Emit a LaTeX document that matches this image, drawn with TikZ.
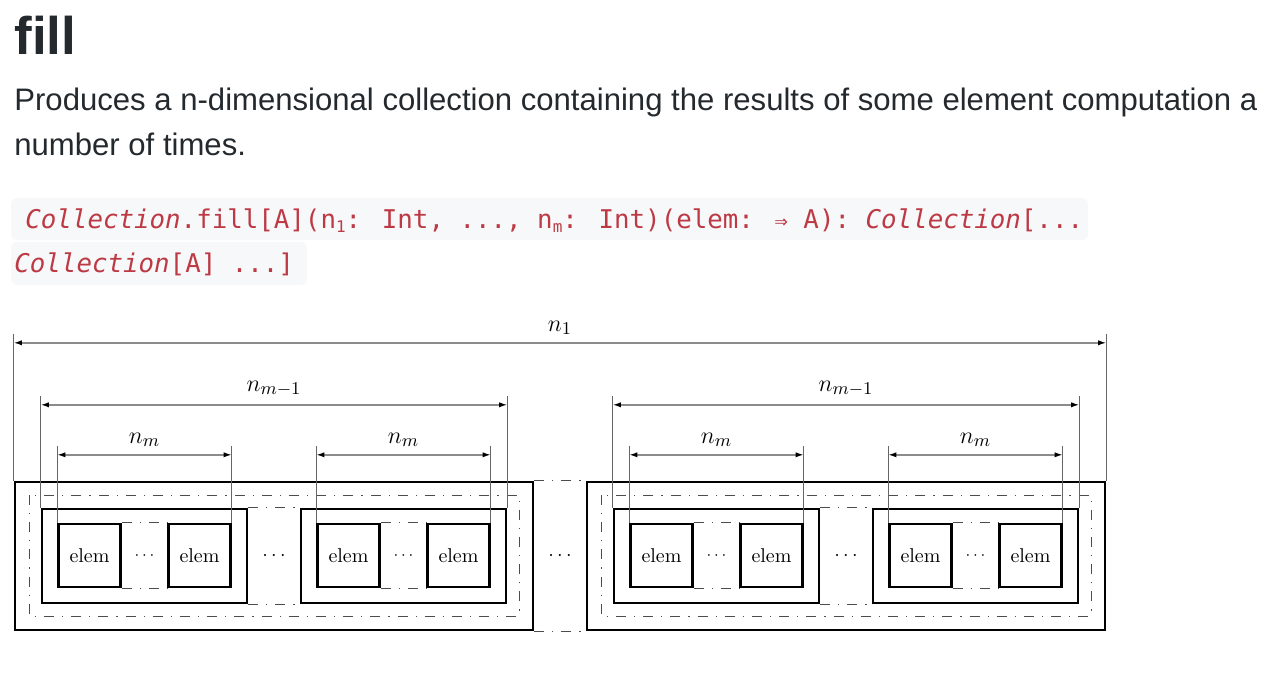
\documentclass[tikz,border=0pt]{standalone}
\usepackage{fontspec}
\usetikzlibrary{arrows.meta}
\newfontfamily\uifont{Liberation Sans}
\newfontfamily\codefont{DejaVu Sans Mono}
\definecolor{inktext}{HTML}{24292E}
\definecolor{codered}{HTML}{BD3A45}
\definecolor{codebg}{HTML}{F6F8FA}
\newcommand\codesub[1]{\raisebox{-0.35ex}{\fontsize{8pt}{8pt}\selectfont #1}}
\tikzset{
  box/.style={draw, line width=1.2pt, inner sep=0pt},
  elembox/.style={box, minimum width=31pt, minimum height=31.5pt},
  gapline/.style={draw=black!70, line width=0.5pt, dash pattern=on 5pt off 4pt on 0.6pt off 4pt},
  extline/.style={draw=black!60, line width=0.45pt},
  dimline/.style={draw=black!45, line width=0.7pt,
    {Latex[length=4pt,width=2.6pt,color=black]}-{Latex[length=4pt,width=2.6pt,color=black]}},
  dimlabel/.style={inner sep=0pt, font=\fontsize{13pt}{15pt}\selectfont},
  prose/.style={anchor=base west, inner sep=0pt, text=inktext, font=\uifont\fontsize{15.55pt}{18pt}\selectfont},
  codeline/.style={anchor=base west, inner sep=0pt, text=codered, font=\codefont\fontsize{12.9pt}{15pt}\selectfont},
}
\begin{document}
\begin{tikzpicture}[x=0.5pt,y=-0.5pt]
  \useasboundingbox (0,0) rectangle (1284,676);
  % heading and description
  \node[anchor=base west, inner sep=0pt, text=inktext, font=\uifont\bfseries\fontsize{26.5pt}{30pt}\selectfont] (title) at (14,54) {fill};
  \node[prose] (desc1) at (14,110) {Produces a n-dimensional collection containing the results of some element computation a};
  \node[prose] (desc2) at (14,155) {number of times.};
  % signature
  \fill[codebg, rounded corners=3pt] (11,198) rectangle (1088,240);
  \fill[codebg, rounded corners=3pt] (11,242) rectangle (307,285);
  \node[codeline] (sig1) at (25,228) {\textit{Collection}.fill[A](n\codesub{1}: Int, ..., n\codesub{m}: Int)(elem: {\fontsize{11pt}{11pt}\selectfont ⇒} A): \textit{Collection}[...};
  \node[codeline] (sig2) at (14,272) {\textit{Collection}[A] ...]};
  % outer collections
  \foreach \o/\ox in {1/274,2/846}{
    \node[box, minimum width=259pt, minimum height=74pt] (outer-\o) at (\ox,556) {};
    \draw[gapline] ({\ox-245},495) rectangle ({\ox+245},616);
    % inner collections
    \foreach \i/\dx in {1/-1,2/1}{
      \node[box, minimum width=102.5pt, minimum height=47pt] (inner-\o-\i) at ({\ox+\dx*129.5},556) {};
      \node[elembox] (elem-\o-\i-1) at ({\ox+\dx*129.5-55},555.5) {elem};
      \node[elembox] (elem-\o-\i-2) at ({\ox+\dx*129.5+55},555.5) {elem};
      \draw[gapline] (elem-\o-\i-1.north east) -- (elem-\o-\i-2.north west);
      \draw[gapline] (elem-\o-\i-1.south east) -- (elem-\o-\i-2.south west);
      \node[inner sep=0pt, font=\footnotesize] (edots-\o-\i) at ({\ox+\dx*129.5},555.5) {$\cdots$};
      % n_m
      \draw[extline] (elem-\o-\i-1.north west) -- ++(0,-77) coordinate (ml-\o-\i);
      \draw[extline] (elem-\o-\i-2.north east) -- ++(0,-77) coordinate (mr-\o-\i);
      \draw[dimline] ([yshift=-4.5pt]ml-\o-\i) -- ([yshift=-4.5pt]mr-\o-\i)
        node[dimlabel, midway, yshift=7.5pt] (lm-\o-\i) {$n_m$};
    }
    \draw[gapline] (inner-\o-1.north east) -- (inner-\o-2.north west);
    \draw[gapline] (inner-\o-1.south east) -- (inner-\o-2.south west);
    \node[inner sep=0pt] (idots-\o) at (\ox,556) {$\cdots$};
    % n_{m-1}
    \draw[extline] (inner-\o-1.north west) -- ++(0,-112) coordinate (kl-\o);
    \draw[extline] (inner-\o-2.north east) -- ++(0,-112) coordinate (kr-\o);
    \draw[dimline] ([yshift=-4.5pt]kl-\o) -- ([yshift=-4.5pt]kr-\o)
      node[dimlabel, midway, yshift=8pt] (lk-\o) {$n_{m-1}$};
  }
  \draw[gapline] (outer-1.north east) -- (outer-2.north west);
  \draw[gapline] (outer-1.south east) -- (outer-2.south west);
  \node[inner sep=0pt] (odots) at (560,556) {$\cdots$};
  % n_1
  \draw[extline] (outer-1.north west) -- ++(0,-147) coordinate (nl);
  \draw[extline] (outer-2.north east) -- ++(0,-147) coordinate (nr);
  \draw[dimline] ([yshift=-4.5pt]nl) -- ([yshift=-4.5pt]nr)
    node[dimlabel, midway, yshift=7.5pt] (ln) {$n_1$};
\end{tikzpicture}
\end{document}
